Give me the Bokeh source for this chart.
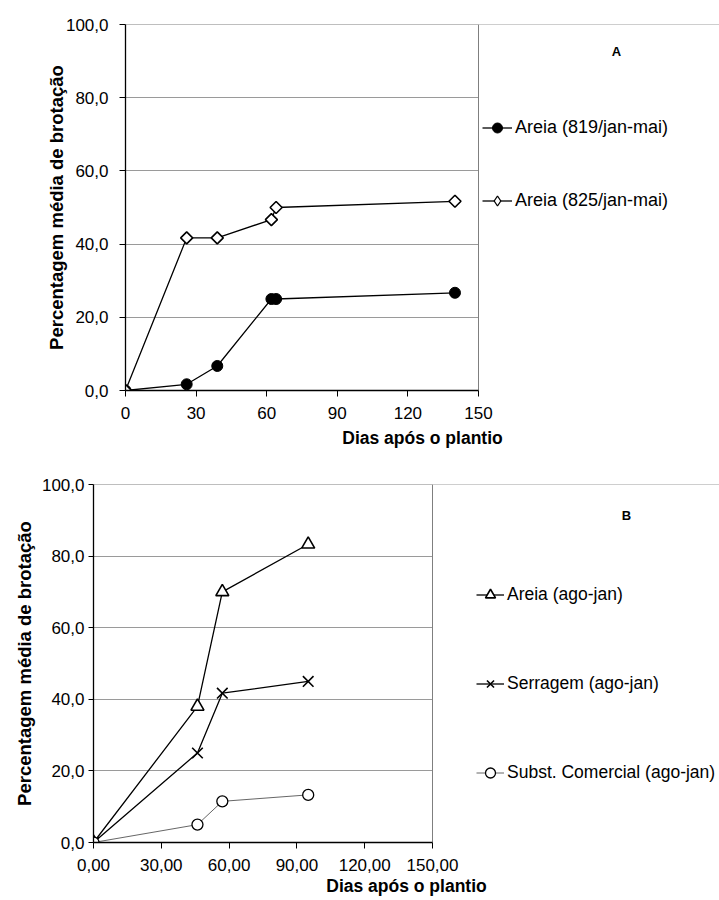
from bokeh.plotting import figure
from bokeh.models import (Legend, LegendItem, Label, Span, BoxAnnotation,
                          CustomJSTickFormatter, FixedTicker, Range1d)
from bokeh.embed import file_html
from bokeh.resources import INLINE

# ---------------- data ----------------
# Chart A
a_days = [0, 26, 39, 62, 64, 140]
a_819 = [0.0, 1.7, 6.7, 25.0, 25.0, 26.7]
a_825 = [0.0, 41.7, 41.7, 46.7, 50.0, 51.7]
a_labels = ["Areia (819/jan-mai)", "Areia (825/jan-mai)"]
a_xticks = [0, 30, 60, 90, 120, 150]
a_tag = "A"

# Chart B
b_days = [0, 46, 57, 95]
b_areia = [0.0, 38.0, 70.0, 83.3]
b_serragem = [0.0, 25.0, 41.7, 45.0]
b_comercial = [0.0, 5.0, 11.5, 13.3]
b_labels = ["Areia (ago-jan)", "Serragem (ago-jan)", "Subst. Comercial (ago-jan)"]
b_xticks = [0, 30, 60, 90, 120, 150]
b_tag = "B"

x_limits = (0, 150)
y_limits = (0, 100)
y_ticks = [0, 20, 40, 60, 80, 100]
y_title = "Percentagem média de brotação"
x_title = "Dias após o plantio"

FONT = "Liberation Sans"
GRID = "#9a9a9a"
EDGE = "#7f7f7f"


def style(p, xdec, xticks, y_std, y_lab_std, x_std, x_lab_std):
    p.xgrid.visible = False
    p.ygrid.grid_line_color = GRID
    p.ygrid.grid_line_width = 1
    p.outline_line_color = None
    p.yaxis.ticker = FixedTicker(ticks=y_ticks)
    p.xaxis.ticker = FixedTicker(ticks=xticks)
    p.xaxis.bounds = x_limits
    p.yaxis.formatter = CustomJSTickFormatter(code="return tick.toFixed(1).replace('.', ',');")
    p.xaxis.formatter = CustomJSTickFormatter(
        code="return tick.toFixed(%d).replace('.', ',');" % xdec)
    for ax in (p.xaxis[0], p.yaxis[0]):
        ax.axis_line_color = "black"
        ax.axis_line_width = 1.3
        ax.major_tick_line_color = "black"
        ax.major_tick_in = 0
        ax.major_tick_out = 6
        ax.minor_tick_line_color = None
        ax.major_label_text_font = FONT
        ax.major_label_text_font_size = "17px"
        ax.major_label_text_color = "black"
        ax.axis_label_text_font = FONT
        ax.axis_label_text_font_style = "bold"
        ax.axis_label_text_color = "black"
    p.yaxis.axis_label_text_font_size = "18.5px"
    p.xaxis.axis_label_text_font_size = "17.5px"
    p.yaxis.major_label_standoff = y_std
    p.xaxis.major_label_standoff = x_std
    p.yaxis.axis_label_standoff = y_lab_std
    p.xaxis.axis_label_standoff = x_lab_std
    p.yaxis.axis_label = y_title
    p.xaxis.axis_label = x_title
    p.background_fill_color = "white"
    p.border_fill_color = "white"
    # top edge of the plot area, then hide everything right of x = 150
    p.add_layout(Span(location=y_limits[1], dimension="width", line_color=EDGE,
                      line_width=1, level="underlay"))
    p.add_layout(BoxAnnotation(left=x_limits[1], fill_color="white", fill_alpha=1,
                               line_alpha=0, level="underlay"))
    p.add_layout(Span(location=x_limits[1], dimension="height", line_color=EDGE,
                      line_width=1, level="underlay"))


def make_legend(items, loc, spacing, gw, fs, gh=25):
    return Legend(items=items, location=loc, padding=0, margin=0, spacing=spacing,
                  glyph_width=gw, glyph_height=gh, label_height=gh,
                  label_standoff=3, border_line_color=None,
                  background_fill_alpha=0, label_text_font=FONT,
                  label_text_font_size=fs, label_text_color="black")


def make_tag(text, x, y):
    return Label(x=x, y=y, x_units="screen", y_units="screen", text=text,
                 text_font=FONT, text_font_style="bold", text_font_size="13px",
                 text_align="center", text_baseline="middle", text_color="black")


# ---------------- Chart A ----------------
# plot area: 0..150 spans 353 px of a 594 px wide frame
p1 = figure(width=719, height=455, output_backend="svg", toolbar_location=None,
            x_range=Range1d(0, 150 * 594 / 353), y_range=Range1d(*y_limits),
            min_border_left=125, min_border_right=0,
            min_border_top=24, min_border_bottom=65)
style(p1, 0, a_xticks, 11, -4, 10, 6)

l1 = p1.line(a_days, a_819, line_color="black", line_width=1.3)
s1 = p1.scatter(a_days, a_819, marker="circle", size=11, fill_color="black",
                line_color="black")
l2 = p1.line(a_days, a_825, line_color="black", line_width=1.3)
# small diamonds (hidden under the markers) provide the legend key shape
s2_key = p1.scatter(a_days, a_825, marker="diamond", size=6, fill_color="white",
                    line_color="black", line_width=1.3)
s2 = p1.scatter(a_days, a_825, marker="square", angle=0.7854, size=8.5,
                fill_color="white", line_color="black", line_width=1.6)

p1.add_layout(make_legend([LegendItem(label=a_labels[0], renderers=[l1, s1]),
                           LegendItem(label=a_labels[1], renderers=[l2, s2_key])],
                          (357, 177), 48, 30, "18px"))
p1.add_layout(make_tag(a_tag, 491, 339))

# ---------------- Chart B ----------------
# plot area: 0..150 spans 339 px of a 626 px wide frame
p2 = figure(width=719, height=445, output_backend="svg", toolbar_location=None,
            x_range=Range1d(0, 150 * 626 / 339), y_range=Range1d(*y_limits),
            min_border_left=93, min_border_right=0,
            min_border_top=29, min_border_bottom=58)
style(p2, 2, b_xticks, 4, 4, 10, 2)
p2.yaxis.major_tick_out = 5

m1 = p2.line(b_days, b_areia, line_color="black", line_width=1.3)
t1 = p2.scatter(b_days, b_areia, marker="triangle", size=13, fill_color="white",
                line_color="black", line_width=1.6)
m2 = p2.line(b_days, b_serragem, line_color="black", line_width=1.3)
t2 = p2.scatter(b_days, b_serragem, marker="x", size=15, line_color="black",
                line_width=1.6)
m3 = p2.line(b_days, b_comercial, line_color="#555555", line_width=0.9)
t3 = p2.scatter(b_days, b_comercial, marker="circle", size=11, fill_color="white",
                line_color="black", line_width=1.3)

p2.add_layout(make_legend([LegendItem(label=b_labels[0], renderers=[m1, t1]),
                           LegendItem(label=b_labels[1], renderers=[m2, t2]),
                           LegendItem(label=b_labels[2], renderers=[m3, t3])],
                          (383, 57), 64, 28, "17.5px"))
p2.add_layout(make_tag(b_tag, 533, 327))

open("out.html", "w").write(file_html([p1, p2], INLINE))
